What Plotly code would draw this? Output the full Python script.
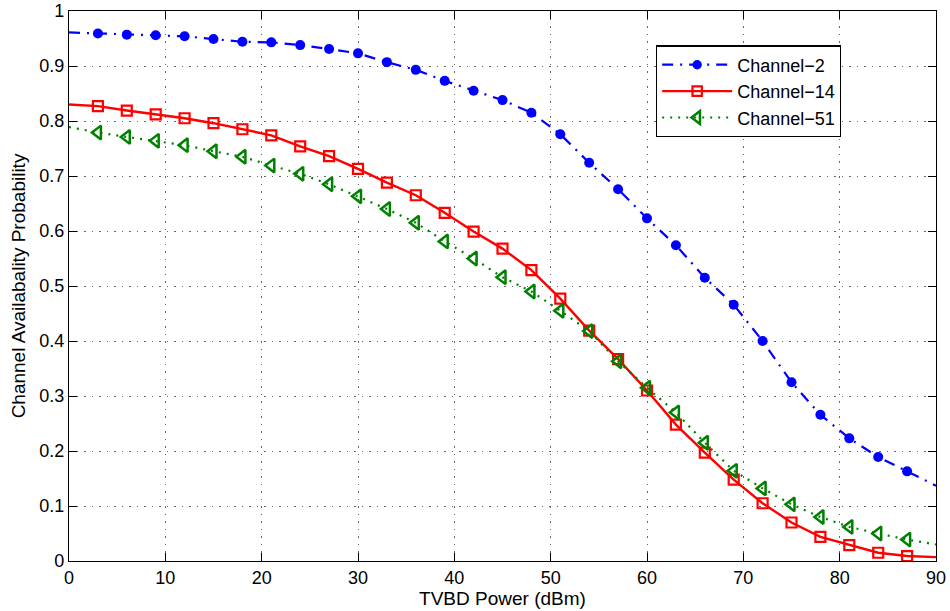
import plotly.graph_objects as go

# ---- data ----
power_dbm = [0, 3, 6, 9, 12, 15, 18, 21, 24, 27, 30, 33, 36, 39, 42, 45,
             48, 51, 54, 57, 60, 63, 66, 69, 72, 75, 78, 81, 84, 87, 90]
channel_2 = [0.961, 0.959, 0.957, 0.956, 0.954, 0.949, 0.944, 0.943, 0.938, 0.931,
             0.923, 0.907, 0.893, 0.873, 0.855, 0.838, 0.815, 0.776, 0.724, 0.676,
             0.623, 0.574, 0.515, 0.466, 0.400, 0.325, 0.266, 0.223, 0.189, 0.163,
             0.137]
channel_14 = [0.830, 0.827, 0.819, 0.812, 0.805, 0.796, 0.785, 0.774, 0.754, 0.736,
              0.713, 0.688, 0.665, 0.633, 0.599, 0.568, 0.529, 0.477, 0.419, 0.367,
              0.310, 0.248, 0.197, 0.148, 0.105, 0.070, 0.044, 0.029, 0.015, 0.009,
              0.007]
channel_51 = [0.789, 0.779, 0.771, 0.764, 0.756, 0.745, 0.735, 0.719, 0.704, 0.685,
              0.663, 0.640, 0.615, 0.581, 0.550, 0.516, 0.490, 0.455, 0.418, 0.363,
              0.315, 0.270, 0.215, 0.164, 0.132, 0.103, 0.080, 0.062, 0.050, 0.039,
              0.030]
series_names = ["Channel\u22122", "Channel\u221214", "Channel\u221251"]
x_ticks = [0, 10, 20, 30, 40, 50, 60, 70, 80, 90]
y_ticks = [0, 0.1, 0.2, 0.3, 0.4, 0.5, 0.6, 0.7, 0.8, 0.9, 1]
y_tick_labels = ["0", "0.1", "0.2", "0.3", "0.4", "0.5", "0.6", "0.7", "0.8", "0.9", "1"]


def marker_sizes(size):
    # no marker on the first and last points of each curve
    n = len(power_dbm)
    return [0 if i in (0, n - 1) else size for i in range(n)]


FONT = "Liberation Sans, Arial, Helvetica, sans-serif"

fig = go.Figure()
fig.add_trace(go.Scatter(
    x=power_dbm, y=channel_2, name=series_names[0], mode="lines+markers",
    line=dict(color="#0000ff", width=2.2, dash="11px,7px,2px,7px"),
    marker=dict(symbol="circle", size=marker_sizes(10), color="#0000ff",
                opacity=1, line=dict(width=0)),
))
fig.add_trace(go.Scatter(
    x=power_dbm, y=channel_14, name=series_names[1], mode="lines+markers",
    line=dict(color="#ff0000", width=2.4),
    marker=dict(symbol="square-open", size=marker_sizes(10), color="#ff0000",
                opacity=1, line=dict(width=2.2, color="#ff0000")),
))
fig.add_trace(go.Scatter(
    x=power_dbm, y=channel_51, name=series_names[2], mode="lines+markers",
    line=dict(color="#008000", width=2.2, dash="2px,6px"),
    marker=dict(symbol="triangle-left-open", size=marker_sizes(12), color="#008000",
                opacity=1, line=dict(width=2.5, color="#008000")),
))

axis_common = dict(
    showline=True, linecolor="black", linewidth=1.2, mirror="ticks",
    ticks="inside", ticklen=8, tickcolor="black", tickwidth=1,
    showgrid=True, gridcolor="#666666", gridwidth=1, griddash="1.5px,6px",
    zeroline=False, automargin=False,
    tickfont=dict(family=FONT, size=18, color="black"),
)

fig.update_xaxes(range=[0, 90], tickvals=x_ticks,
                 title=dict(text="TVBD Power (dBm)",
                            font=dict(family=FONT, size=19, color="black"), standoff=2),
                 **axis_common)
fig.update_yaxes(range=[0, 1], tickvals=y_ticks, ticktext=y_tick_labels,
                 title=dict(text="Channel Availabality Probability",
                            font=dict(family=FONT, size=19, color="black"), standoff=8),
                 **axis_common)

fig.update_layout(
    width=950, height=611,
    margin=dict(l=69, r=14, t=11, b=50),
    plot_bgcolor="white", paper_bgcolor="white",
    font=dict(family=FONT, size=18, color="black"),
    showlegend=True,
    legend=dict(x=0.677, y=0.9376, xanchor="left", yanchor="top",
                bgcolor="white", bordercolor="black", borderwidth=1.2,
                font=dict(family=FONT, size=18, color="black"),
                tracegroupgap=0, itemwidth=70),
)

fig.write_html("out.html", config={"displayModeBar": False},
               post_script="document.body.style.margin='0';")
